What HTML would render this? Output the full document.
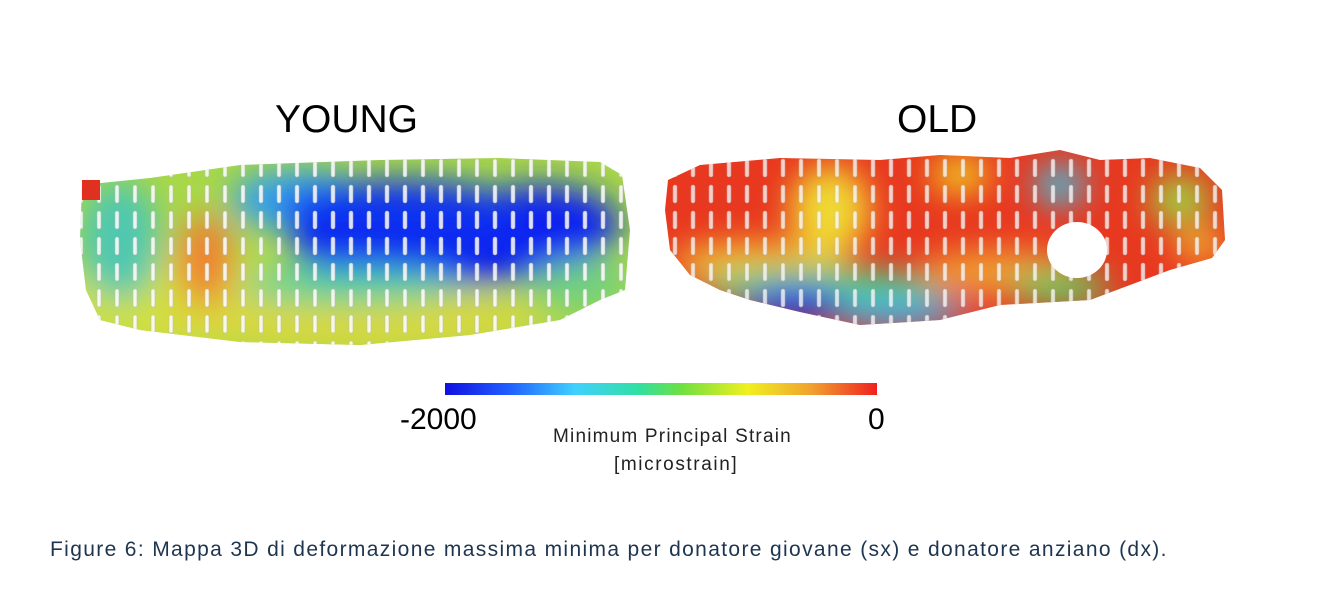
<!DOCTYPE html>
<html><head><meta charset="utf-8"><style>
body{margin:0;background:#fff;width:1340px;height:600px;overflow:hidden;position:relative;font-family:"Liberation Sans",sans-serif}
.t{position:absolute;color:#000;white-space:nowrap}
</style></head><body>
<svg width="1340" height="600" style="position:absolute;left:0;top:0">
<defs>
<filter id="b" x="-50%" y="-50%" width="200%" height="200%"><feGaussianBlur stdDeviation="16"/></filter>
<clipPath id="cy"><path d="M82,185 L150,178 L240,165 L380,160 L500,158 L600,162 L622,175 L630,230 L625,290 L600,300 L560,320 L470,335 L360,345 L240,342 L140,330 L100,320 L86,290 L80,240 Z"/></clipPath>
<clipPath id="co"><path d="M668,180 L700,165 L780,158 L880,160 L940,155 L1010,158 L1060,150 L1100,160 L1150,158 L1200,168 L1222,190 L1225,240 L1212,258 L1170,270 L1130,285 L1090,300 L1000,305 L940,320 L860,325 L800,312 L750,300 L720,290 L690,275 L670,250 L665,210 Z"/></clipPath>
<linearGradient id="cb" x1="0" x2="1">
<stop offset="0" stop-color="#1010e0"/><stop offset="0.15" stop-color="#2060ff"/><stop offset="0.3" stop-color="#40d0ff"/><stop offset="0.45" stop-color="#30e0a0"/><stop offset="0.55" stop-color="#70e040"/><stop offset="0.7" stop-color="#f0f020"/><stop offset="0.85" stop-color="#f0a030"/><stop offset="1" stop-color="#f02020"/>
</linearGradient>
<pattern id="bars" width="18" height="26" patternUnits="userSpaceOnUse"><rect x="7" y="3" width="4" height="18" rx="2" fill="#fff" stroke="#bbb" stroke-width="0.6"/></pattern>
</defs>
<g clip-path="url(#cy)">
<rect x="70" y="150" width="570" height="200" fill="#a8d848"/>
<g filter="url(#b)">
<ellipse cx="180" cy="300" rx="120" ry="50" fill="#d0e040"/>
<ellipse cx="350" cy="320" rx="200" ry="30" fill="#d8d840"/>
<ellipse cx="120" cy="240" rx="40" ry="60" fill="#50c8b0"/>
<ellipse cx="205" cy="260" rx="28" ry="45" fill="#f08030"/>
<ellipse cx="300" cy="200" rx="70" ry="30" fill="#30a0f0"/>
<ellipse cx="440" cy="240" rx="150" ry="45" fill="#1020f0"/>
<ellipse cx="540" cy="225" rx="80" ry="40" fill="#1020f0"/>
<ellipse cx="400" cy="210" rx="120" ry="30" fill="#1030f0"/>
<ellipse cx="350" cy="285" rx="110" ry="18" fill="#50d0a0"/>
<ellipse cx="580" cy="285" rx="50" ry="25" fill="#70d080"/>
</g>
<rect x="70" y="150" width="570" height="200" fill="url(#bars)" opacity="0.85"/>
</g>
<rect x="82" y="180" width="18" height="20" fill="#e03020"/>
<g clip-path="url(#co)">
<rect x="660" y="145" width="570" height="190" fill="#e83820"/>
<g filter="url(#b)">
<ellipse cx="830" cy="210" rx="40" ry="45" fill="#f0d830"/>
<ellipse cx="760" cy="262" rx="90" ry="20" fill="#f0c030"/>
<ellipse cx="820" cy="288" rx="120" ry="20" fill="#50d080"/>
<ellipse cx="795" cy="302" rx="50" ry="16" fill="#1030f0"/>
<ellipse cx="900" cy="312" rx="70" ry="14" fill="#40b0f0"/>
<ellipse cx="1000" cy="272" rx="80" ry="22" fill="#f0a030"/>
<ellipse cx="1060" cy="288" rx="50" ry="18" fill="#60c860"/>
<ellipse cx="960" cy="175" rx="30" ry="18" fill="#f0d020"/>
<ellipse cx="1180" cy="200" rx="30" ry="25" fill="#a0d040"/>
<ellipse cx="1060" cy="185" rx="25" ry="20" fill="#40c0e0"/>
<ellipse cx="1200" cy="245" rx="25" ry="15" fill="#f0c030"/>
</g>
<rect x="660" y="145" width="570" height="190" fill="url(#bars)" opacity="0.75"/>
</g>
<ellipse cx="1077" cy="250" rx="30" ry="28" fill="#fff"/>
<rect x="445" y="383" width="432" height="12" fill="url(#cb)"/>
</svg>
<div class="t" style="left:275px;top:98px;font-size:39px">YOUNG</div>
<div class="t" style="left:897px;top:98px;font-size:39px">OLD</div>
<div class="t" style="left:400px;top:403px;font-size:30px">-2000</div>
<div class="t" style="left:868px;top:403px;font-size:30px">0</div>
<div class="t" style="left:553px;top:426px;font-size:19px;letter-spacing:1.2px;color:#222">Minimum Principal Strain</div>
<div class="t" style="left:614px;top:454px;font-size:19px;letter-spacing:1.6px;color:#222">[microstrain]</div>
<div class="t" style="left:50px;top:538px;font-size:21px;letter-spacing:1.35px;color:#1e3550">Figure 6: Mappa 3D di deformazione massima minima per donatore giovane (sx) e donatore anziano (dx).</div>
</body></html>
